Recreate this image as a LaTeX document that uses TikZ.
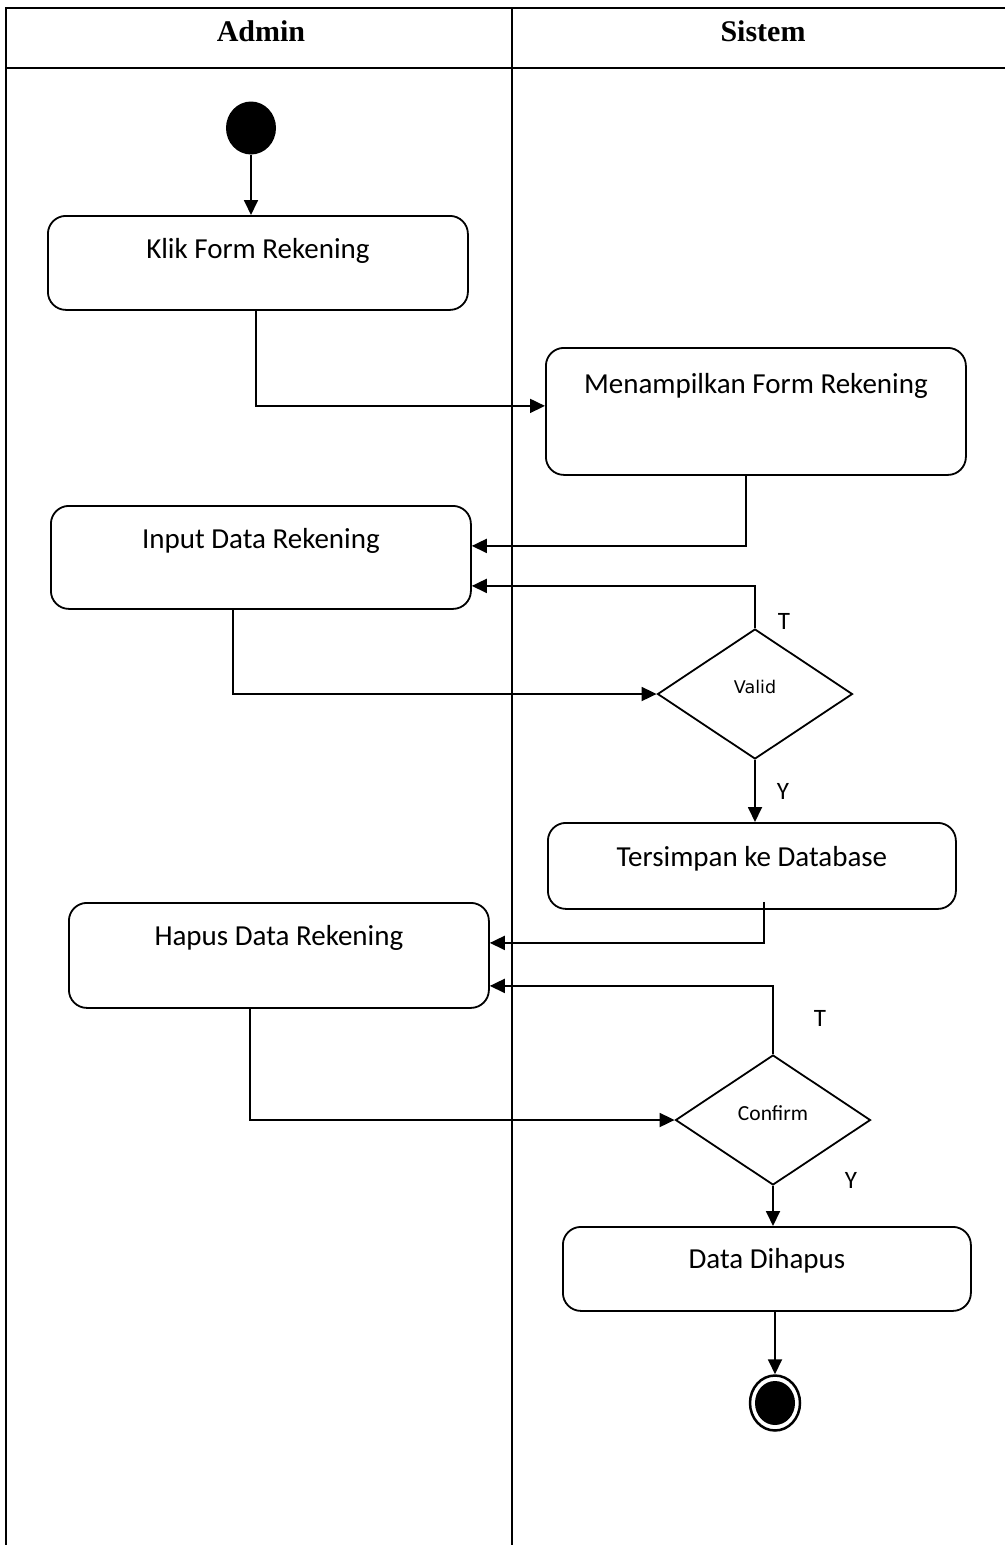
\documentclass[tikz,border=0pt]{standalone}
\usepackage{fontspec}
\setmainfont{Carlito}
\newfontfamily\headfont{Liberation Serif}
\newfontfamily\smallsans{DejaVu Sans}
\usetikzlibrary{arrows.meta,shapes.geometric,calc}

\begin{document}
\begin{tikzpicture}[x=1pt,y=-1pt,
  lane/.style={line width=2.2pt},
  act/.style={draw, rounded corners=18pt, line width=1.8pt, inner sep=0pt,
    anchor=north west, align=center, font=\fontsize{29}{33}\selectfont},
  dec/.style={draw, diamond, line width=1.8pt, inner sep=0pt,
    minimum width=195pt, minimum height=130pt},
  flow/.style={line width=1.8pt, -{Triangle[length=15pt,width=14pt]}},
  lbl/.style={font=\fontsize{25}{28}\selectfont},
  head/.style={font=\headfont\bfseries\fontsize{30}{34}\selectfont},
]
\useasboundingbox (0,0) rectangle (1005,1545);

% swimlane frame
\draw[lane] (6,1545) -- (6,8) -- (1005,8);
\draw[lane] (6,68) -- (1005,68);
\draw[lane] (512,8) -- (512,1545);
\node[head] (hadmin) at (261,31) {Admin};
\node[head] (hsistem) at (763,31) {Sistem};

% start
\node[ellipse, fill=black, minimum width=50pt, minimum height=53pt, inner sep=0pt] (start) at (251,128) {};

% activities
\node[act, minimum width=420pt, text height=43pt, text depth=51pt] (klik) at (47,215) {Klik Form Rekening};
\node[act, minimum width=420pt, text height=46pt, text depth=81pt] (tampil) at (545,347) {Menampilkan Form Rekening};
\node[act, minimum width=420pt, text height=43pt, text depth=60pt] (input) at (50,505) {Input Data Rekening};
\node[act, minimum width=408pt, text height=44pt, text depth=42pt] (simpan) at (547,822) {Tersimpan ke Database};
\node[act, minimum width=420pt, text height=43pt, text depth=62pt] (hapus) at (68,902) {Hapus Data Rekening};
\node[act, minimum width=408pt, text height=42pt, text depth=42pt] (dihapus) at (562,1226) {Data Dihapus};

% decisions
\node[dec] (valid) at (755,694) {\raisebox{14pt}{\smallsans\fontsize{17.5}{20}\selectfont Valid}};
\node[dec] (confirm) at (773,1120) {\raisebox{13pt}{\fontsize{21.5}{24}\selectfont Confirm}};

% end
\node[ellipse, draw, line width=2.5pt, minimum width=50pt, minimum height=55pt, inner sep=0pt,
  path picture={\fill (path picture bounding box.center) ellipse (20pt and 22pt);}] (end) at (775,1403) {};

% flows
\draw[flow] (start.south) -- (start.south |- klik.north);
\draw[flow] ($(klik.south)+(-2,0)$) |- ($(tampil.west)+(0,-5.5)$);
\draw[flow] ($(tampil.south)+(-10,0)$) |- ($(input.east)+(0,-11.5)$);
\draw[flow] (valid.north) |- ($(input.east)+(0,28.5)$);
\draw[flow] ($(input.south)+(-28,0)$) |- (valid.west);
\draw[flow] (valid.south) -- (valid.south |- simpan.north);
\draw[flow] ($(simpan.south)+(12,-8)$) |- ($(hapus.east)+(0,-12.5)$);
\draw[flow] (confirm.north) |- ($(hapus.east)+(0,30.5)$);
\draw[flow] ($(hapus.south)+(-29,0)$) |- (confirm.west);
\draw[flow] (confirm.south) -- (confirm.south |- dihapus.north);
\draw[flow] (dihapus.south -| end.north) -- (end.north);

% guard labels
\node[lbl] (t1) at (784,621) {T};
\node[lbl] (y1) at (783,791) {Y};
\node[lbl] (t2) at (820,1018) {T};
\node[lbl] (y2) at (851,1180) {Y};
\end{tikzpicture}
\end{document}
